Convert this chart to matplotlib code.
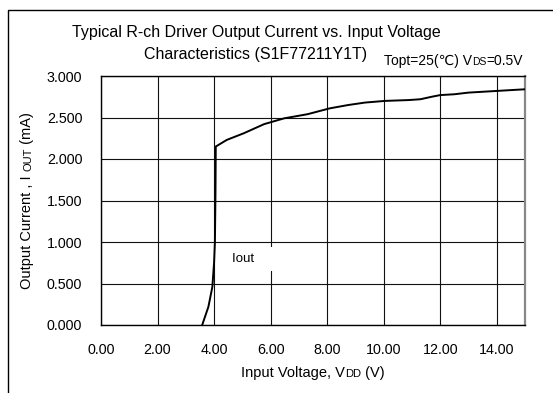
import matplotlib
matplotlib.use("Agg")
import matplotlib.pyplot as plt
from matplotlib.patches import Rectangle
from matplotlib.offsetbox import TextArea, HPacker, AnnotationBbox

plt.rcParams['font.family'] = ['Liberation Sans', 'DejaVu Sans']

# curve
vdd = [3.58, 3.80, 3.94, 4.00, 4.03, 4.05, 4.06, 4.45, 5.05, 5.77, 6.48, 7.31,
       8.09, 8.74, 9.34, 10.05, 10.88, 11.3, 11.7, 12.0, 12.5, 13.0, 14.0, 15.0]
iout = [0.0, 0.22, 0.46, 0.75, 1.0, 1.6, 2.15, 2.23, 2.31, 2.42, 2.49, 2.54,
        2.61, 2.65, 2.68, 2.70, 2.71, 2.72, 2.75, 2.77, 2.78, 2.80, 2.82, 2.84]
xticks = [0, 2, 4, 6, 8, 10, 12, 14]
yticks = [0, 0.5, 1.0, 1.5, 2.0, 2.5, 3.0]

W, H = 553, 393
fig = plt.figure(figsize=(W / 100, H / 100), dpi=100)

def px(x, y):
    return x / W, 1 - y / H

# axes box in pixels: left 101, right 525, top 76, bottom 325
ax = fig.add_axes([101 / W, 1 - 325 / H, 424 / W, 249 / H])
ax.plot(vdd, iout, color='black', lw=1.4, zorder=3)
ax.set_xlim(0, 15)
ax.set_ylim(0, 3)
ax.set_xticks(xticks)
ax.set_yticks(yticks)
ax.set_xticklabels(['%.2f' % v for v in xticks])
ax.set_yticklabels(['%.3f' % v for v in yticks])
ax.tick_params(length=0, labelsize=10.3)
ax.tick_params(axis='x', pad=13)
ax.tick_params(axis='y', pad=13.5)
ax.grid(True, color='#111111', lw=0.8)
for s in ['left', 'bottom', 'top']:
    ax.spines[s].set_linewidth(1.0)
ax.spines['right'].set_color('#888888')
ax.spines['right'].set_linewidth(1.6)

ax.text(4.63, 0.795, 'Iout     ', fontsize=9.5, va='center', ha='left',
        bbox=dict(boxstyle='square,pad=0.45', fc='white', ec='none'), zorder=2)

# outer frame (cut off at right/bottom like the reference)
fig.patches.append(Rectangle(px(8, 9.5 + 500), 600 / W, 500 / H,
                             transform=fig.transFigure, fill=False,
                             ec='black', lw=1.0))

# title
fig.text(*px(256, 37.5), 'Typical R-ch Driver Output Current vs. Input Voltage',
         fontsize=11.5, ha='center', va='baseline')
fig.text(*px(256, 59.5), 'Characteristics (S1F77211Y1T)',
         fontsize=11.5, ha='center', va='baseline')

def packed(parts, xy, align):
    kids = [TextArea(t, textprops=dict(fontsize=s)) for t, s in parts]
    box = HPacker(children=kids, align='baseline', pad=0, sep=0)
    ab = AnnotationBbox(box, xy, xycoords='figure fraction', frameon=False,
                        box_alignment=align, pad=0)
    fig.add_artist(ab)

packed([('Topt=25(\u2103) V', 10), ('DS', 7.5), ('=0.5V', 10)], px(384, 68), (0, 0))
packed([('Input Voltage, V', 10.5), ('DD', 8), (' (V)', 10.5)], px(313, 380), (0.5, 0))

# rotated y label, chained piece by piece
t1 = fig.text(*px(34, 289), 'Output Current , I ', fontsize=10.5, rotation=90,
              ha='right', va='bottom')
t2 = ax.annotate('OUT', xy=(1, 1), xycoords=t1, fontsize=8, rotation=90,
                 ha='right', va='bottom', annotation_clip=False)
ax.annotate(' (mA)', xy=(1, 1), xycoords=t2, fontsize=10.5, rotation=90,
            ha='right', va='bottom', annotation_clip=False)

fig.savefig('out.png', dpi=100)
